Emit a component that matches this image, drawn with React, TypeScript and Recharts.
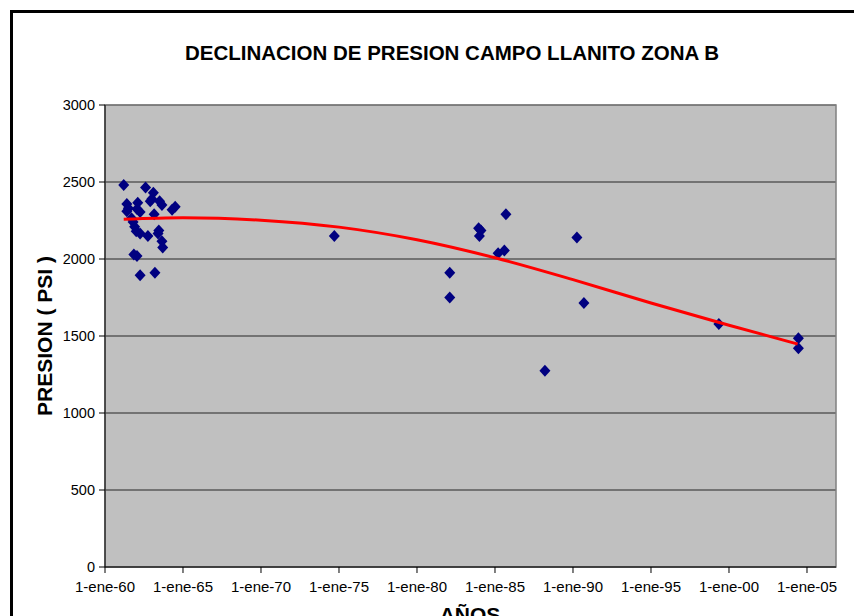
import React from 'react';
import {
  ScatterChart,
  Scatter,
  XAxis,
  YAxis,
  CartesianGrid,
  ReferenceArea,
} from 'recharts';

// measured pressures (decimal year, psi)
const measureYears = [
  1961.2, 1961.4, 1961.5, 1961.4, 1961.7, 1961.8, 1961.9, 1962.0, 1961.85, 1962.05,
  1962.1, 1962.05, 1962.25, 1962.25, 1962.25, 1962.6, 1962.75, 1962.9, 1963.0, 1963.1,
  1963.15, 1963.2, 1963.4, 1963.45, 1963.5, 1963.65, 1963.65, 1963.7, 1964.3, 1964.5,
  1974.7, 1982.1, 1982.1, 1983.95, 1984.1, 1984.0, 1985.2, 1985.6, 1985.7, 1988.2,
  1990.25, 1990.7, 1999.35, 2004.45, 2004.45,
];
const measurePsi = [
  2480, 2357, 2330, 2310, 2265, 2240, 2210, 2180, 2030, 2020,
  2365, 2325, 2305, 2165, 1895, 2465, 2150, 2375, 2390, 2430,
  2290, 1910, 2165, 2185, 2375, 2350, 2115, 2075, 2320, 2340,
  2150, 1910, 1750, 2200, 2185, 2150, 2037, 2055, 2290, 1275,
  2140, 1715, 1578, 1485, 1420,
];

// trend line
const trendYears = [1961.2, 1965, 1970, 1975, 1980, 1985, 1990, 1995, 2000, 2004.4];
const trendPsi = [2258, 2268, 2252, 2207, 2125, 2008, 1866, 1714, 1570, 1448];

const xTicks = [1960, 1965, 1970, 1975, 1980, 1985, 1990, 1995, 2000, 2005];
const yTicks = [0, 500, 1000, 1500, 2000, 2500, 3000];

const points = measureYears.map((x, i) => ({ x, y: measurePsi[i] }));
const trend = trendYears.map((x, i) => ({ x, y: trendPsi[i] }));

const X_MAX = 2006.86;

const Diamond = (props: any) => {
  const { cx, cy } = props;
  return (
    <polygon
      points={`${cx},${cy - 6} ${cx + 5.5},${cy} ${cx},${cy + 6} ${cx - 5.5},${cy}`}
      fill="#000080"
    />
  );
};

const formatYear = (v: number) => `1-ene-${String(Math.round(v) % 100).padStart(2, '0')}`;

const font = 'Arial, "Liberation Sans", sans-serif';

export default function App() {
  return (
    <div
      style={{
        position: 'absolute',
        left: 0,
        top: 0,
        width: 854,
        height: 616,
        overflow: 'hidden',
        background: '#fff',
        fontFamily: font,
      }}
    >
      {/* outer frame */}
      <div
        style={{
          position: 'absolute',
          left: 10,
          top: 10,
          width: 880,
          height: 700,
          border: '3px solid #000',
          boxSizing: 'border-box',
        }}
      />
      <div
        style={{
          position: 'absolute',
          left: 0,
          width: 904,
          top: 41,
          textAlign: 'center',
          fontWeight: 'bold',
          fontSize: 20.5,
          color: '#000',
        }}
      >
        DECLINACION DE PRESION CAMPO LLANITO ZONA B
      </div>
      <div
        style={{
          position: 'absolute',
          left: 45,
          top: 336,
          transform: 'translate(-50%, -50%) rotate(-90deg)',
          whiteSpace: 'nowrap',
          fontWeight: 'bold',
          fontSize: 21,
        }}
      >
        PRESION ( PSI )
      </div>
      <div
        style={{
          position: 'absolute',
          left: 0,
          width: 940,
          top: 603,
          textAlign: 'center',
          fontWeight: 'bold',
          fontSize: 21,
        }}
      >
        AÑOS
      </div>
      <div style={{ position: 'absolute', left: 0, top: 0 }}>
        <ScatterChart
          width={854}
          height={640}
          margin={{ top: 105, right: 18, bottom: 13, left: 0 }}
        >
          <CartesianGrid
            vertical={false}
            fill="#C0C0C0"
            fillOpacity={1}
            stroke="#000"
            strokeOpacity={0.8}
          />
          <ReferenceArea
            x1={1960}
            x2={X_MAX}
            y1={0}
            y2={3000}
            fill="none"
            stroke="#808080"
            strokeWidth={1.5}
            ifOverflow="visible"
          />
          <XAxis
            type="number"
            dataKey="x"
            domain={[1960, X_MAX]}
            ticks={xTicks}
            tickFormatter={formatYear}
            interval={0}
            height={60}
            tickSize={6}
            tickMargin={8}
            stroke="#000"
            tick={{ fill: '#000', fontSize: 15, fontFamily: font }}
            allowDataOverflow
          />
          <YAxis
            type="number"
            dataKey="y"
            domain={[0, 3000]}
            ticks={yTicks}
            width={105}
            tickSize={6}
            tickMargin={4}
            stroke="#000"
            tick={{ fill: '#000', fontSize: 14.5, fontFamily: font }}
          />
          <Scatter
            data={points}
            shape={<Diamond />}
            isAnimationActive={false}
          />
          <Scatter
            data={trend}
            shape={() => <g />}
            line={{ stroke: '#FF0000', strokeWidth: 3 }}
            lineJointType="monotoneX"
            isAnimationActive={false}
          />
        </ScatterChart>
      </div>
    </div>
  );
}
